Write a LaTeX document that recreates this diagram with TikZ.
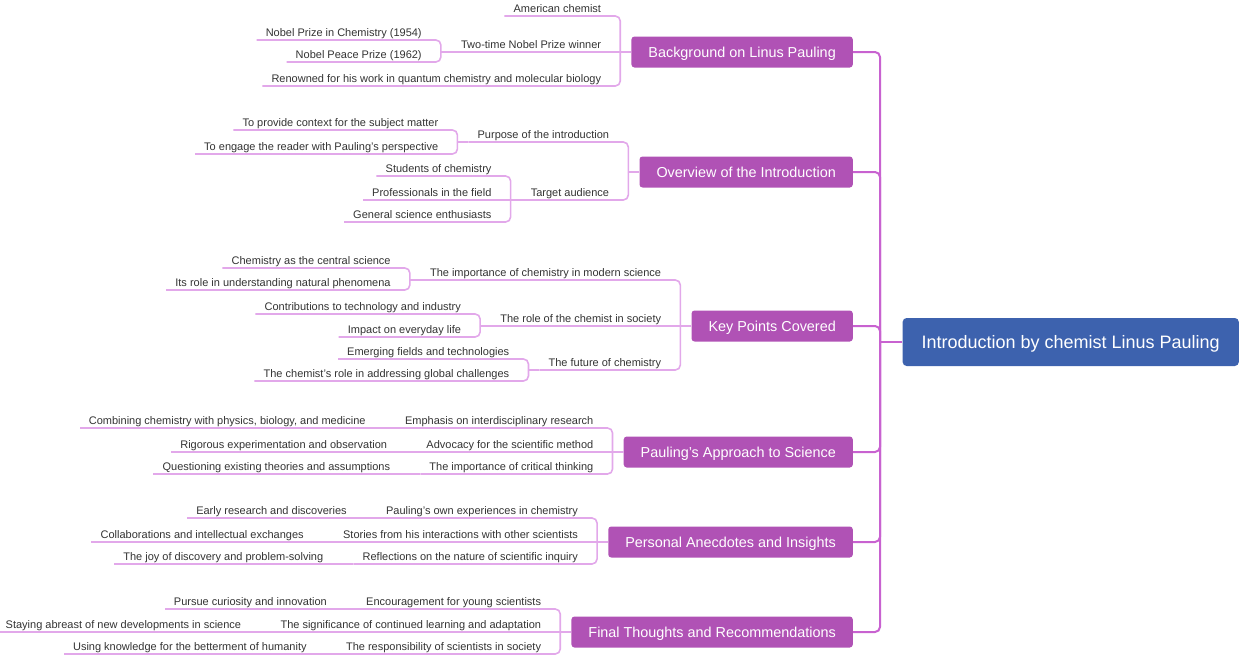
\documentclass[tikz,border=0pt]{standalone}
\usepackage{fontspec}
\setmainfont{Liberation Sans}
\definecolor{rootblue}{HTML}{3D62AE}
\definecolor{topicpurple}{HTML}{B052B5}
\definecolor{trunkc}{HTML}{C862D0}
\definecolor{branchc}{HTML}{E2A8EA}
\definecolor{textgray}{HTML}{333333}
\begin{document}
\begin{tikzpicture}[x=1pt,y=-1pt,
 root/.style={fill=rootblue,text=white,font=\fontsize{18}{20}\selectfont,rounded corners=4pt,minimum height=48pt,inner xsep=19pt,text height=12.9pt,text depth=0pt,anchor=east},
 topic/.style={fill=topicpurple,text=white,font=\fontsize{14.4}{16}\selectfont,rounded corners=3pt,minimum height=31pt,inner xsep=17pt,text height=10.3pt,text depth=0pt,anchor=east},
 item/.style={text=textgray,font=\fontsize{11}{13}\selectfont,anchor=south east,inner xsep=9pt,inner ysep=1.5pt,text height=8pt,text depth=1.5pt},
 trunk/.style={draw=trunkc,line width=2pt,rounded corners=5pt},
 branch/.style={draw=branchc,line width=1.6pt,rounded corners=5pt},
 straight/.style={draw=branchc,line width=1.6pt}]
\useasboundingbox (0,0) rectangle (1240,656);

% root and topics
\node[root] (root) at (1239,342) {Introduction by chemist Linus Pauling};
\coordinate (tr) at (880,342);
\node[topic] (t1) at (853,52) {Background on Linus Pauling};
\node[topic] (t2) at (853,172) {Overview of the Introduction};
\node[topic] (t3) at (853,326) {Key Points Covered};
\node[topic] (t4) at (853,452) {Pauling's Approach to Science};
\node[topic] (t5) at (853,542) {Personal Anecdotes and Insights};
\node[topic] (t6) at (853,632) {Final Thoughts and Recommendations};

\draw[trunk] (root.west) -- (tr);
\foreach \t in {t1,t2,t3,t4,t5,t6}{\draw[trunk] (tr) |- (\t.east);}

% brackets for topics
\foreach \t/\b in {t1/b1,t2/b2,t3/b3,t4/b4,t5/b5,t6/b6}{
  \coordinate (\b) at ([xshift=-11pt]\t.west);
  \coordinate (e\b) at ([xshift=-10pt]\b);
}

% ---- topic 1
\node[item] (c11) at (eb1 |- 0,16) {American chemist};
\node[item] (c12) at (eb1 |- 0,52) {Two-time Nobel Prize winner};
\node[item] (c13) at (eb1 |- 0,86) {Renowned for his work in quantum chemistry and molecular biology};
\coordinate (b12) at ([xshift=-11pt]c12.south west);
\coordinate (e12) at ([xshift=-10pt]b12);
\node[item] (c121) at (e12 |- 0,40) {Nobel Prize in Chemistry (1954)};
\node[item] (c122) at (e12 |- 0,62) {Nobel Peace Prize (1962)};

% ---- topic 2
\node[item] (c21) at (eb2 |- 0,142) {Purpose of the introduction};
\node[item] (c22) at (eb2 |- 0,200) {Target audience};
\coordinate (b21) at ([xshift=-11pt]c21.south west);
\coordinate (e21) at ([xshift=-10pt]b21);
\node[item] (c211) at (e21 |- 0,130) {To provide context for the subject matter};
\node[item] (c212) at (e21 |- 0,154) {To engage the reader with Pauling's perspective};
\coordinate (b22) at ([xshift=-11pt]c22.south west);
\coordinate (e22) at ([xshift=-10pt]b22);
\node[item] (c221) at (e22 |- 0,176) {Students of chemistry};
\node[item] (c222) at (e22 |- 0,200) {Professionals in the field};
\node[item] (c223) at (e22 |- 0,222) {General science enthusiasts};

% ---- topic 3
\node[item] (c31) at (eb3 |- 0,280) {The importance of chemistry in modern science};
\node[item] (c32) at (eb3 |- 0,326) {The role of the chemist in society};
\node[item] (c33) at (eb3 |- 0,370) {The future of chemistry};
\coordinate (b31) at ([xshift=-11pt]c31.south west);
\coordinate (e31) at ([xshift=-10pt]b31);
\node[item] (c311) at (e31 |- 0,268) {Chemistry as the central science};
\node[item] (c312) at (e31 |- 0,290) {Its role in understanding natural phenomena};
\coordinate (b32) at ([xshift=-11pt]c32.south west);
\coordinate (e32) at ([xshift=-10pt]b32);
\node[item] (c321) at (e32 |- 0,314) {Contributions to technology and industry};
\node[item] (c322) at (e32 |- 0,337) {Impact on everyday life};
\coordinate (b33) at ([xshift=-11pt]c33.south west);
\coordinate (e33) at ([xshift=-10pt]b33);
\node[item] (c331) at (e33 |- 0,359) {Emerging fields and technologies};
\node[item] (c332) at (e33 |- 0,381) {The chemist's role in addressing global challenges};

% ---- topic 4
\node[item] (c41) at (eb4 |- 0,428) {Emphasis on interdisciplinary research};
\node[item] (c42) at (eb4 |- 0,452) {Advocacy for the scientific method};
\node[item] (c43) at (eb4 |- 0,474) {The importance of critical thinking};
\node[item] (c411) at ([xshift=-21pt]c41.south west) {Combining chemistry with physics, biology, and medicine};
\node[item] (c421) at ([xshift=-21pt]c42.south west) {Rigorous experimentation and observation};
\node[item] (c431) at ([xshift=-21pt]c43.south west) {Questioning existing theories and assumptions};

% ---- topic 5
\node[item] (c51) at (eb5 |- 0,518) {Pauling's own experiences in chemistry};
\node[item] (c52) at (eb5 |- 0,542) {Stories from his interactions with other scientists};
\node[item] (c53) at (eb5 |- 0,564) {Reflections on the nature of scientific inquiry};
\node[item] (c511) at ([xshift=-21pt]c51.south west) {Early research and discoveries};
\node[item] (c521) at ([xshift=-21pt]c52.south west) {Collaborations and intellectual exchanges};
\node[item] (c531) at ([xshift=-21pt]c53.south west) {The joy of discovery and problem-solving};

% ---- topic 6
\node[item] (c61) at (eb6 |- 0,609) {Encouragement for young scientists};
\node[item] (c62) at (eb6 |- 0,632) {The significance of continued learning and adaptation};
\node[item] (c63) at (eb6 |- 0,654) {The responsibility of scientists in society};
\node[item] (c611) at ([xshift=-21pt]c61.south west) {Pursue curiosity and innovation};
\node[item] (c621) at ([xshift=-21pt]c62.south west) {Staying abreast of new developments in science};
\node[item] (c631) at ([xshift=-21pt]c63.south west) {Using knowledge for the betterment of humanity};

% ---- connectors from topics to their items (bracketed, off-axis)
\foreach \t/\b/\cs in {t1/b1/{c11,c13},t2/b2/{c21,c22},t3/b3/{c31,c33},t4/b4/{c41,c43},t5/b5/{c51,c53},t6/b6/{c61,c63}}{
  \draw[straight] (\t.west) -- (\b);
  \foreach \c in \cs {\draw[branch] (\b) |- (\c.south east) -- (\c.south west);}
}
% ---- items in line with their topic
\foreach \t/\c in {t1/c12,t3/c32,t4/c42,t5/c52,t6/c62}{
  \draw[straight] (\t.west) -- (\c.south west);
}
% ---- connectors from items to sub-items (bracketed)
\foreach \p/\cs in {c12/{c121,c122},c21/{c211,c212},c22/{c221,c223},c31/{c311,c312},c32/{c321,c322},c33/{c331,c332}}{
  \coordinate (pb) at ([xshift=-11pt]\p.south west);
  \draw[straight] (\p.south west) -- (pb);
  \foreach \c in \cs {\draw[branch] (pb) |- (\c.south east) -- (\c.south west);}
}
% ---- sub-items in line with their item
\foreach \p/\c in {c22/c222,c41/c411,c42/c421,c43/c431,c51/c511,c52/c521,c53/c531,c61/c611,c62/c621,c63/c631}{
  \draw[straight] (\p.south west) -- (\c.south west);
}
\end{tikzpicture}
\end{document}
